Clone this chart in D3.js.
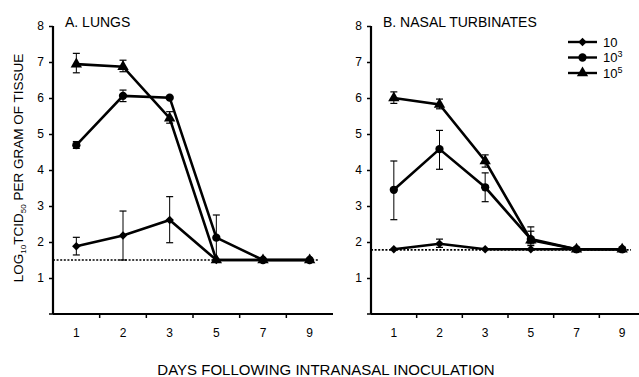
<!DOCTYPE html>
<html lang="en">
<head>
<meta charset="UTF-8">
<title>Virus titers</title>
<script src="https://cdn.jsdelivr.net/npm/d3@7/dist/d3.min.js"></script>
<style>
  body { margin: 0; background: #fff; }
  text { font-family: Arial, "Liberation Sans", sans-serif; fill: #000; }
</style>
</head>
<body>
<svg id="chart" width="639" height="377"></svg>
<script>
// days on the x axis (categorical)
var days = ["1", "2", "3", "5", "7", "9"];
var doses = ["10", "10^3", "10^5"];
var yTicks = [1, 2, 3, 4, 5, 6, 7, 8];

// A. lungs
var lungs10    = [1.88, 2.18, 2.61, 1.5, 1.5, 1.5];
var lungs10Hi  = [2.13, 2.86, 3.26, 1.5, 1.5, 1.5];
var lungs10Lo  = [1.64, 1.5, 1.98, 1.5, 1.5, 1.5];
var lungs1e3   = [4.69, 6.06, 6.01, 2.12, 1.5, 1.5];
var lungs1e3Hi = [4.79, 6.22, 6.04, 2.75, 1.5, 1.5];
var lungs1e3Lo = [4.60, 5.90, 5.98, 1.5, 1.5, 1.5];
var lungs1e5   = [6.94, 6.87, 5.44, 1.5, 1.5, 1.5];
var lungs1e5Hi = [7.24, 7.05, 5.62, 1.5, 1.5, 1.5];
var lungs1e5Lo = [6.70, 6.73, 5.30, 1.5, 1.5, 1.5];
var lungsLimit = 1.5;

// B. nasal turbinates
var nasal10    = [1.8, 1.95, 1.8, 1.8, 1.8, 1.8];
var nasal10Hi  = [1.8, 2.08, 1.8, 1.8, 1.8, 1.8];
var nasal10Lo  = [1.8, 1.85, 1.8, 1.8, 1.8, 1.8];
var nasal1e3   = [3.45, 4.58, 3.52, 2.08, 1.8, 1.8];
var nasal1e3Hi = [4.25, 5.10, 3.92, 2.30, 1.8, 1.8];
var nasal1e3Lo = [2.62, 4.02, 3.12, 1.95, 1.8, 1.8];
var nasal1e5   = [6.00, 5.82, 4.25, 2.05, 1.8, 1.8];
var nasal1e5Hi = [6.17, 5.97, 4.42, 2.42, 1.8, 1.8];
var nasal1e5Lo = [5.85, 5.70, 4.08, 1.90, 1.8, 1.8];
var nasalLimit = 1.78;

var svg = d3.select("#chart");

var symbols = [
  d3.symbol().type(d3.symbolSquare).size(36),   // diamond (rotated square)
  d3.symbol().type(d3.symbolCircle).size(54),
  d3.symbol().type(d3.symbolTriangle).size(56)
];
var rotate = [45, 0, 0];

var panels = [
  { title: "A. LUNGS", x0: 53, x1: 333, limit: lungsLimit,
    series: [[lungs10, lungs10Lo, lungs10Hi], [lungs1e3, lungs1e3Lo, lungs1e3Hi], [lungs1e5, lungs1e5Lo, lungs1e5Hi]] },
  { title: "B. NASAL TURBINATES", x0: 371, x1: 645, limit: nasalLimit,
    series: [[nasal10, nasal10Lo, nasal10Hi], [nasal1e3, nasal1e3Lo, nasal1e3Hi], [nasal1e5, nasal1e5Lo, nasal1e5Hi]] }
];

var y = d3.scaleLinear().domain([0, 8]).range([314, 26]);

panels.forEach(function(p) {
  var x = d3.scaleBand().domain(days).range([p.x0, p.x1]);
  var cx = function(i) { return x(days[i]) + x.bandwidth() / 2; };
  var g = svg.append("g");

  // detection limit
  g.append("line")
    .attr("x1", p.x0).attr("x2", p.x1 - 14)
    .attr("y1", y(p.limit)).attr("y2", y(p.limit))
    .attr("stroke", "#000").attr("stroke-width", 1.7)
    .attr("stroke-dasharray", "2,1.6");

  // axes
  var yAxis = g.append("g").attr("transform", "translate(" + p.x0 + ",0)")
    .call(d3.axisLeft(y).tickValues(yTicks).tickSize(4).tickPadding(5).tickFormat(d3.format("d")));
  var xAxis = g.append("g").attr("transform", "translate(0," + y(0) + ")")
    .call(d3.axisBottom(x).tickSize(0).tickPadding(14));
  // ticks between the categories
  xAxis.selectAll(".bound").data(days.slice(1)).enter().append("line")
    .attr("x1", function(d) { return x(d); }).attr("x2", function(d) { return x(d); })
    .attr("y1", 0).attr("y2", 4).attr("stroke", "#000").attr("stroke-width", 1.5);
  [yAxis, xAxis].forEach(function(a) {
    a.select(".domain").attr("stroke-width", 2.2);
    a.selectAll(".tick line").attr("stroke-width", 1.5);
    a.selectAll("text").attr("font-size", 12).attr("font-family", "Arial, 'Liberation Sans', sans-serif");
  });
  yAxis.select(".domain").attr("d", "M0," + y(8) + "V" + y(0));
  xAxis.select(".domain").attr("d", "M" + p.x0 + ",0H" + p.x1);
  yAxis.append("line").attr("x1", -4).attr("x2", 0).attr("y1", y(0)).attr("y2", y(0))
    .attr("stroke", "#000").attr("stroke-width", 1.5);

  g.append("text").attr("x", p.x0 + 12).attr("y", 27)
    .attr("font-size", 14).text(p.title);

  var line = d3.line().x(function(d, i) { return cx(i); }).y(function(d) { return y(d); });

  p.series.forEach(function(s, k) {
    // error bars
    var eb = g.append("g");
    s[0].forEach(function(v, i) {
      var hi = s[2][i], lo = s[1][i];
      if (hi - lo < 0.02) return;
      eb.append("line").attr("x1", cx(i)).attr("x2", cx(i))
        .attr("y1", y(hi)).attr("y2", y(lo)).attr("stroke", "#000").attr("stroke-width", 1);
      [hi, lo].forEach(function(e) {
        if (Math.abs(e - v) < 0.02) return;
        eb.append("line").attr("x1", cx(i) - 3.5).attr("x2", cx(i) + 3.5)
          .attr("y1", y(e)).attr("y2", y(e)).attr("stroke", "#000").attr("stroke-width", 1.2);
      });
    });
    g.append("path").datum(s[0]).attr("d", line)
      .attr("fill", "none").attr("stroke", "#000").attr("stroke-width", 2.6);
    g.selectAll(".m" + k).data(s[0]).enter().append("path")
      .attr("d", symbols[k])
      .attr("transform", function(d, i) {
        return "translate(" + cx(i) + "," + y(d) + ") rotate(" + rotate[k] + ")";
      })
      .attr("fill", "#000");
  });
});

// legend
var leg = svg.append("g").attr("transform", "translate(568,42)");
doses.forEach(function(d, k) {
  var row = leg.append("g").attr("transform", "translate(0," + (k * 15.5) + ")");
  row.append("line").attr("x1", 0).attr("x2", 29).attr("stroke", "#000").attr("stroke-width", 2.4);
  row.append("path").attr("d", symbols[k])
    .attr("transform", "translate(14.5,0) rotate(" + rotate[k] + ")").attr("fill", "#000");
  var parts = d.split("^");
  var t = row.append("text").attr("x", 35).attr("y", 4.5).attr("font-size", 13);
  t.append("tspan").text(parts[0]);
  if (parts[1]) t.append("tspan").attr("dy", -5).attr("font-size", 9).text(parts[1]);
});

// axis titles
var yl = svg.append("text")
  .attr("transform", "translate(23,168) rotate(-90)")
  .attr("text-anchor", "middle").attr("font-size", 13.5);
yl.append("tspan").text("LOG");
yl.append("tspan").attr("font-size", 8).attr("dy", 3).text("10");
yl.append("tspan").attr("dy", -3).text("TCID");
yl.append("tspan").attr("font-size", 8).attr("dy", 3).text("50");
yl.append("tspan").attr("dy", -3).text(" PER GRAM OF TISSUE");

svg.append("text").attr("x", 326).attr("y", 375)
  .attr("text-anchor", "middle").attr("font-size", 15)
  .text("DAYS FOLLOWING INTRANASAL INOCULATION");
</script>
</body>
</html>
